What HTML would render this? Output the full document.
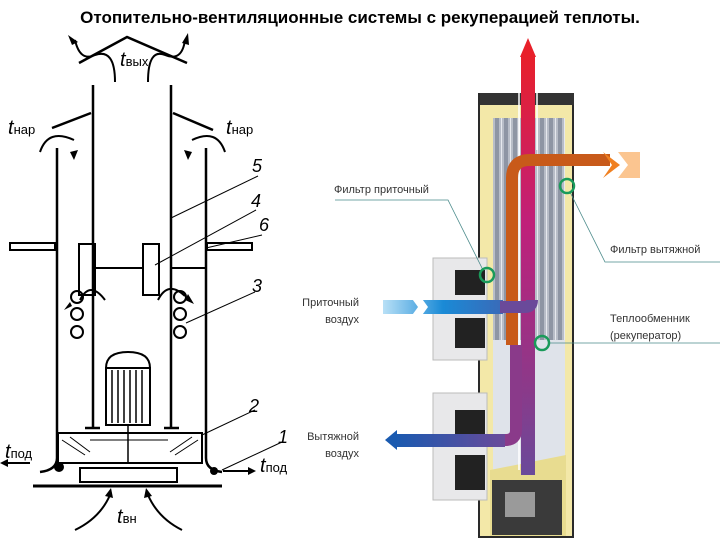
<!DOCTYPE html>
<html><head><meta charset="utf-8"><style>
html,body{margin:0;padding:0;background:#fff}
svg{display:block}
</style></head><body>
<svg width="720" height="540" viewBox="0 0 720 540" xmlns="http://www.w3.org/2000/svg" font-family="Liberation Sans, sans-serif">
<defs>
<linearGradient id="stripes" x1="0" x2="1" y1="0" y2="0" spreadMethod="repeat">
<stop offset="0" stop-color="#c9cdd6"/><stop offset="0.5" stop-color="#8f96a6"/><stop offset="1" stop-color="#c9cdd6"/>
</linearGradient>
<pattern id="strp" width="9" height="10" patternUnits="userSpaceOnUse"><rect width="9" height="10" fill="#b8bdc8"/><rect x="0" width="4" height="10" fill="#8e95a4"/><rect x="6" width="1" height="10" fill="#e6e8ee"/></pattern>
<linearGradient id="red" x1="0" y1="0" x2="0" y2="1"><stop offset="0" stop-color="#e8202a"/><stop offset="0.4" stop-color="#c0207a"/><stop offset="0.8" stop-color="#8a3a8a"/><stop offset="1" stop-color="#6a4a9a"/></linearGradient>
<linearGradient id="blueIn" x1="0" x2="1"><stop offset="0" stop-color="#b8e0f6"/><stop offset="0.5" stop-color="#1a8ad6"/><stop offset="1" stop-color="#3a6ab8"/></linearGradient>
<linearGradient id="blueOut" x1="0" x2="1"><stop offset="0" stop-color="#1a5ab0"/><stop offset="1" stop-color="#6a4a9a"/></linearGradient>
<linearGradient id="orng" x1="0" x2="1"><stop offset="0" stop-color="#c05020"/><stop offset="0.6" stop-color="#f08020"/><stop offset="1" stop-color="#fcd8b0"/></linearGradient>
</defs>
<text x="360" y="23" text-anchor="middle" font-size="17" font-weight="bold" fill="#000">Отопительно-вентиляционные системы с рекуперацией теплоты.</text>

<!-- LEFT DIAGRAM -->
<g stroke="#000" fill="none" stroke-width="2.5">
<polyline points="79,63 127,37 187,63"/>
<line x1="93" y1="85" x2="93" y2="427"/>
<line x1="171" y1="85" x2="171" y2="427"/>
<line x1="52" y1="128" x2="91" y2="113"/>
<line x1="173" y1="113" x2="213" y2="130"/>
<path d="M57,148 V458 Q57,470 40,472"/>
<path d="M206,148 V458 Q206,470 222,472"/>
<rect x="10" y="243" width="45" height="7" stroke-width="2"/>
<rect x="207" y="243" width="45" height="7" stroke-width="2"/>
<rect x="79" y="244" width="16" height="51" stroke-width="2"/>
<rect x="143" y="244" width="16" height="51" stroke-width="2"/>
<line x1="95" y1="268" x2="143" y2="268" stroke-width="2"/>
<line x1="171" y1="268" x2="206" y2="268" stroke-width="2"/>
<g stroke-width="2"><circle cx="77" cy="297" r="6"/><circle cx="77" cy="314" r="6"/><circle cx="77" cy="332" r="6"/>
<circle cx="180" cy="297" r="6"/><circle cx="180" cy="314" r="6"/><circle cx="180" cy="332" r="6"/></g>
<path d="M106,368 Q106,352 128,352 Q150,352 150,368 Z" stroke-width="2"/>
<rect x="106" y="368" width="44" height="57" stroke-width="2"/>
<g stroke-width="1.5"><line x1="112" y1="370" x2="112" y2="423"/><line x1="118" y1="370" x2="118" y2="423"/><line x1="124" y1="370" x2="124" y2="423"/><line x1="130" y1="370" x2="130" y2="423"/><line x1="136" y1="370" x2="136" y2="423"/><line x1="142" y1="370" x2="142" y2="423"/></g>
<rect x="58" y="433" width="144" height="30" stroke-width="2"/>
<line x1="128" y1="425" x2="128" y2="463" stroke-width="1.5"/>
<line x1="85" y1="428" x2="100" y2="428"/><line x1="164" y1="428" x2="179" y2="428"/>
<g stroke-width="1"><line x1="62" y1="440" x2="85" y2="455"/><line x1="70" y1="437" x2="90" y2="452"/><line x1="90" y1="440" x2="128" y2="440"/><line x1="128" y1="440" x2="168" y2="440"/><line x1="175" y1="455" x2="198" y2="440"/><line x1="170" y1="452" x2="192" y2="437"/></g>
<rect x="80" y="468" width="97" height="14" stroke-width="2"/>
<line x1="33" y1="486" x2="222" y2="486" stroke-width="3"/>
<!-- arrows -->
<path d="M115,82 Q115,48 95,55 Q80,62 75,40" stroke-width="2"/>
<path d="M148,82 Q148,48 165,55 Q182,62 185,40" stroke-width="2"/>
<path d="M40,152 Q48,128 74,140" stroke-width="2"/>
<path d="M225,152 Q217,128 192,140" stroke-width="2"/>
<path d="M80,300 Q90,280 105,300" stroke-width="2"/>
<path d="M158,300 Q168,280 185,296" stroke-width="2"/>
<line x1="30" y1="463" x2="5" y2="463" stroke-width="2"/>
<line x1="223" y1="471" x2="248" y2="471" stroke-width="2"/>
<path d="M75,530 Q100,518 110,495" stroke-width="2"/>
<path d="M182,530 Q158,518 148,495" stroke-width="2"/>
<g stroke-width="1"><line x1="171" y1="218" x2="258" y2="176"/><line x1="155" y1="265" x2="256" y2="210"/><line x1="206" y1="248" x2="262" y2="235"/><line x1="186" y1="323" x2="255" y2="292"/><line x1="202" y1="435" x2="255" y2="410"/><line x1="222" y1="470" x2="282" y2="442"/></g>
</g>
<g fill="#000">
<polygon points="68,35 72,45 78,42"/><polygon points="188,33 182,43 189,45"/>
<polygon points="70,152 74,160 78,150"/><polygon points="192,152 188,160 184,150"/>
<polygon points="70,302 64,310 72,306"/><polygon points="188,294 194,304 185,300"/>
<polygon points="0,463 8,459 8,467"/><polygon points="256,471 248,467 248,475"/>
<polygon points="111,488 105,496 113,498"/><polygon points="146,488 152,496 144,498"/>
<circle cx="59" cy="467" r="5"/><circle cx="214" cy="471" r="4"/>
</g>
<g font-style="italic" fill="#000">
<text x="120" y="66" font-size="20">t<tspan font-size="13" font-style="normal">вых</tspan></text>
<text x="8" y="134" font-size="20">t<tspan font-size="13" font-style="normal">нар</tspan></text>
<text x="226" y="134" font-size="20">t<tspan font-size="13" font-style="normal">нар</tspan></text>
<text x="5" y="458" font-size="20">t<tspan font-size="13" font-style="normal">под</tspan></text>
<text x="260" y="472" font-size="20">t<tspan font-size="13" font-style="normal">под</tspan></text>
<text x="117" y="523" font-size="20">t<tspan font-size="13" font-style="normal">вн</tspan></text>
<text x="252" y="172" font-size="18">5</text><text x="251" y="207" font-size="18">4</text>
<text x="259" y="231" font-size="18">6</text><text x="252" y="292" font-size="18">3</text>
<text x="249" y="412" font-size="18">2</text><text x="278" y="443" font-size="18">1</text>
</g>

<!-- RIGHT DEVICE -->
<rect x="478" y="93" width="96" height="445" fill="#2a2a2a"/>
<rect x="480" y="98" width="92" height="438" fill="#f3e8a8"/>
<rect x="493" y="118" width="72" height="222" fill="url(#strp)"/>
<rect x="493" y="340" width="72" height="130" fill="#dfe3ea"/>
<polygon points="490,470 566,455 566,536 490,536" fill="#e8dc90"/>
<rect x="492" y="480" width="70" height="55" fill="#3a3a3a"/>
<rect x="505" y="492" width="30" height="25" fill="#9a9a9a"/>
<rect x="480" y="93" width="94" height="12" fill="#333"/>
<!-- fans -->
<rect x="433" y="258" width="54" height="102" fill="#e8e8ea" stroke="#bbb"/>
<rect x="455" y="270" width="30" height="25" fill="#222"/><rect x="455" y="318" width="30" height="30" fill="#222"/>
<rect x="433" y="393" width="54" height="107" fill="#e8e8ea" stroke="#bbb"/>
<rect x="455" y="410" width="30" height="25" fill="#222"/><rect x="455" y="455" width="30" height="35" fill="#222"/>
<!-- flows -->
<rect x="521" y="55" width="14" height="420" fill="url(#red)"/>
<polygon points="520,57 528,38 536,57" fill="#e8202a"/>
<line x1="519" y1="58" x2="519" y2="470" stroke="#fff" stroke-width="1.5"/>
<line x1="537" y1="58" x2="537" y2="150" stroke="#fff" stroke-width="1.5"/>
<path d="M512,345 V178 Q512,160 530,160 H610" fill="none" stroke="#c85a1a" stroke-width="12"/>
<polygon points="603,152 620,165 603,178 612,165" fill="#f08020"/>
<polygon points="618,152 640,152 640,178 618,178 628,165" fill="#fbc590"/>
<rect x="383" y="300" width="120" height="14" fill="url(#blueIn)"/>
<polygon points="410,296 418,307 410,318 420,318 428,307 420,296" fill="#fff"/>
<path d="M500,307 H525 Q532,307 532,300" fill="none" stroke="#6a4a9a" stroke-width="12"/>
<rect x="395" y="434" width="110" height="13" fill="url(#blueOut)"/>
<polygon points="385,440 397,430 397,450" fill="#1a5ab0"/>
<path d="M505,440 Q516,440 516,430 V345" fill="none" stroke="#8a3a8a" stroke-width="12"/>
<!-- leaders -->
<g stroke="#4a8a8a" stroke-width="0.8" fill="none">
<polyline points="335,200 448,200 483,270"/>
<polyline points="570,192 605,262 720,262"/>
<polyline points="548,343 720,343"/>
</g>
<g fill="none" stroke="#1a9a5a" stroke-width="2.5">
<circle cx="487" cy="275" r="7"/><circle cx="567" cy="186" r="7"/><circle cx="542" cy="343" r="7"/>
</g>
<g font-size="11" fill="#333">
<text x="334" y="193">Фильтр приточный</text>
<text x="610" y="253">Фильтр вытяжной</text>
<text x="359" y="306" text-anchor="end">Приточный</text>
<text x="359" y="323" text-anchor="end">воздух</text>
<text x="610" y="322">Теплообменник</text>
<text x="610" y="339">(рекуператор)</text>
<text x="359" y="440" text-anchor="end">Вытяжной</text>
<text x="359" y="457" text-anchor="end">воздух</text>
</g>
</svg>
</body></html>
